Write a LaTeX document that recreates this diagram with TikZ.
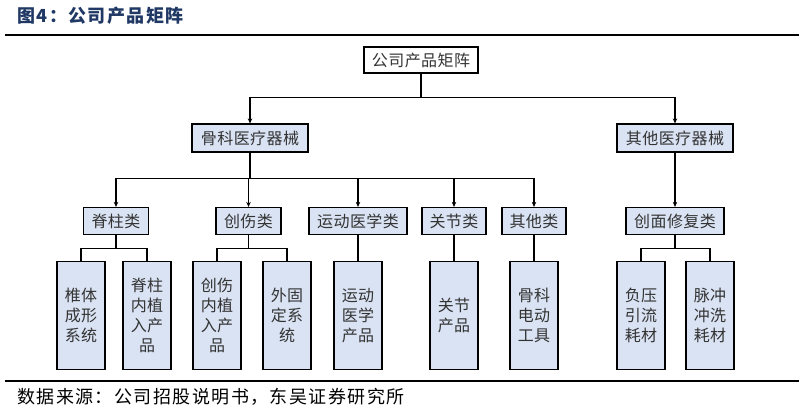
\documentclass[tikz,border=0pt]{standalone}
\usepackage{fontspec}
\usetikzlibrary{arrows.meta}
\newfontfamily\cjk[LetterSpace=3]{Noto Sans CJK SC}
\newfontfamily\cjkwide[LetterSpace=8]{Noto Sans CJK SC}
\definecolor{boxfill}{HTML}{DAE3F3}
\definecolor{txtgray}{HTML}{333333}
\definecolor{titleblue}{HTML}{1F3864}
\tikzset{
  box/.style={draw=black, line width=1.2pt, fill=boxfill, inner sep=0pt,
    text=txtgray, font=\cjk\fontsize{16}{20}\selectfont, minimum height=27pt},
  leaf/.style={box, minimum width=48pt, minimum height=108pt, align=center},
  conn/.style={line width=1.2pt, draw=black},
  arr/.style={conn, -{Stealth[length=5pt,width=4.5pt]}},
}
\begin{document}
\begin{tikzpicture}[x=1pt,y=-1pt]
\useasboundingbox (0,0) rectangle (804,413);
% title and rules
\node[anchor=west, inner sep=0pt, text=titleblue, font=\cjkwide\bfseries\fontsize{18}{20}\selectfont] (title) at (17,16) {图4：公司产品矩阵};
\draw[line width=2pt] (5,34.5) -- (799,34.5);
\draw[line width=1.5pt] (5,381) -- (799,381);
\node[anchor=west, inner sep=0pt, text=black, font=\cjkwide\fontsize{18}{20}\selectfont] (src) at (17,397) {数据来源：公司招股说明书，东吴证券研究所};
% level 0
\node[box, fill=white, minimum width=114pt, minimum height=26pt] (top) at (421,60) {公司产品矩阵};
% level 1
\node[box, minimum width=116pt, minimum height=28pt] (gk) at (250,138) {骨科医疗器械};
\node[box, minimum width=116pt, minimum height=28pt] (qt) at (675,138) {其他医疗器械};
% level 2
\node[box, minimum width=65pt] (jz) at (116,221) {脊柱类};
\node[box, minimum width=65pt] (cs) at (248.5,221) {创伤类};
\node[box, minimum width=98pt] (yd) at (358,221) {运动医学类};
\node[box, minimum width=64pt] (gj) at (454,221) {关节类};
\node[box, minimum width=64pt] (qtl) at (534,221) {其他类};
\node[box, minimum width=98pt] (cm) at (675,221) {创面修复类};
% leaves
\node[leaf] (l1) at (81,315.5) {椎体\\成形\\系统};
\node[leaf] (l2) at (147,315.5) {脊柱\\内植\\入产\\品};
\node[leaf] (l3) at (217,315.5) {创伤\\内植\\入产\\品};
\node[leaf] (l4) at (287,315.5) {外固\\定系\\统};
\node[leaf] (l5) at (358,315.5) {运动\\医学\\产品};
\node[leaf] (l6) at (454,315.5) {关节\\产品};
\node[leaf] (l7) at (534,315.5) {骨科\\电动\\工具};
\node[leaf] (l8) at (641,315.5) {负压\\引流\\耗材};
\node[leaf] (l9) at (710,315.5) {脉冲\\冲洗\\耗材};
% connectors level 0 -> 1
\draw[arr] (top.south) -- ++(0,24) -| (gk.north);
\draw[arr] (top.south) -- ++(0,24) -| (qt.north);
% level 1 -> 2
\draw[arr] (gk.south) -- ++(0,26) -| (jz.north);
\draw[arr] (gk.south) -- ++(0,26) -| (cs.north);
\draw[arr] (gk.south) -- ++(0,26) -| (yd.north);
\draw[arr] (gk.south) -- ++(0,26) -| (gj.north);
\draw[arr] (gk.south) -- ++(0,26) -| (qtl.north);
\draw[arr] (qt.south) -- (cm.north);
% level 2 -> leaves
\draw[conn] (jz.south) -- ++(0,13.5) -| (l1.north);
\draw[conn] (jz.south) -- ++(0,13.5) -| (l2.north);
\draw[conn] (cs.south) -- ++(0,13.5) -| (l3.north);
\draw[conn] (cs.south) -- ++(0,13.5) -| (l4.north);
\draw[conn] (yd.south) -- (l5.north);
\draw[conn] (gj.south) -- (l6.north);
\draw[conn] (qtl.south) -- (l7.north);
\draw[conn] (cm.south) -- ++(0,13.5) -| (l8.north);
\draw[conn] (cm.south) -- ++(0,13.5) -| (l9.north);
\end{tikzpicture}
\end{document}
